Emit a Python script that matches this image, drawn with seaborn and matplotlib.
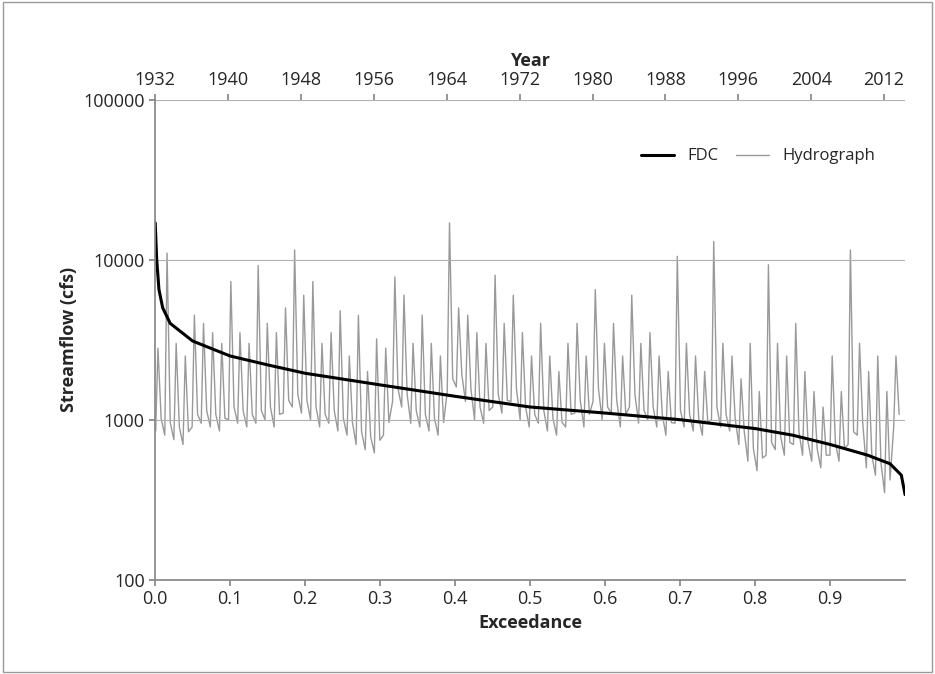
import matplotlib.pyplot as plt
import seaborn as sns
import numpy as np
import pandas as pd

# Flow duration curve (exceedance, cfs)
fdc_exc = [0.0, 0.002, 0.005, 0.01, 0.02, 0.05, 0.1, 0.15, 0.2, 0.3, 0.4, 0.5,
           0.6, 0.7, 0.8, 0.85, 0.9, 0.95, 0.98, 0.995, 1.0]
fdc_q = [17000, 10000, 6500, 5000, 4000, 3100, 2500, 2200, 1950, 1650, 1400, 1200,
         1100, 1000, 880, 800, 700, 600, 530, 450, 340]

# Hydrograph: annual peak and low flows (cfs), 1932-2013
years = list(range(1932, 2014))
peaks = [2800, 11000, 3000, 2500, 4500, 4000, 3500, 3000, 7300, 3500,
         3000, 9200, 4000, 3500, 5000, 11500, 6000, 7300, 3000, 3500,
         4800, 2500, 4500, 2000, 3200, 2800, 7800, 6000, 3000, 4500,
         3000, 2500, 17000, 5000, 4500, 3500, 3000, 8000, 4000, 6000,
         3500, 2500, 4000, 2500, 2000, 3000, 4000, 2500, 6500, 3000,
         4000, 2500, 6000, 3000, 3500, 2500, 2000, 10500, 3000, 2500,
         2000, 13000, 3000, 2500, 1800, 3000, 1500, 9300, 3000, 2500,
         4000, 2000, 1500, 1200, 2500, 1500, 11500, 3000, 2000, 2500,
         1500, 2500]
lows = [850, 800, 750, 700, 900, 950, 900, 850, 1000, 950,
        900, 950, 1000, 900, 1100, 1200, 1100, 1000, 900, 950,
        850, 800, 700, 650, 620, 800, 1300, 1200, 950, 900,
        850, 800, 1500, 1600, 1300, 1000, 950, 1200, 1100, 1300,
        1000, 900, 950, 850, 800, 900, 1100, 900, 1300, 1000,
        1100, 900, 1200, 950, 1000, 900, 800, 950, 900, 850,
        800, 1000, 900, 850, 700, 550, 480, 600, 650, 600,
        700, 600, 550, 500, 600, 550, 700, 800, 500, 450,
        350, 900]

t, q = [], []
for y, lo, pk in zip(years, lows, peaks):
    t += [y + 0.05, y + 0.3, y + 0.65]
    q += [lo, pk, lo * 1.2]
hydro = pd.DataFrame({"year": t, "q": q})
fdc = pd.DataFrame({"exc": fdc_exc, "q": fdc_q})

sns.set_theme(style="white")
plt.rcParams['font.family'] = ['Open Sans', 'DejaVu Sans']

fig = plt.figure(figsize=(9.35, 6.74), dpi=100)
ax = fig.add_axes([0.166, 0.14, 0.802, 0.712])
ax2 = ax.twiny()

sns.lineplot(data=hydro, x="year", y="q", ax=ax2, color="#999999", lw=1.0, label="Hydrograph", legend=False)
sns.lineplot(data=fdc, x="exc", y="q", ax=ax, color="black", lw=2.2, label="FDC", legend=False)

ax.set_yscale("log")
ax.set_ylim(100, 100000)
ax.set_xlim(0, 1)
ax2.set_xlim(1932, 2014.3)
ax.set_yticks([100, 1000, 10000, 100000])
ax.set_yticklabels(["100", "1000", "10000", "100000"])
ax.minorticks_off()
ax.set_xticks(np.arange(0, 0.95, 0.1))
ax.set_xticklabels([f"{v:.1f}" for v in np.arange(0, 0.95, 0.1)])
ax2.set_xticks(range(1932, 2013, 8))
ax.grid(axis="y", color="#b0b0b0", lw=0.8)
ax.set_zorder(ax2.get_zorder() + 1)
ax.patch.set_visible(False)

for a in (ax, ax2):
    for s in a.spines.values():
        s.set_visible(False)
    a.tick_params(labelsize=13, length=4, color="#888888")
ax.spines["left"].set_visible(True)
ax.spines["left"].set_color("#888888")
ax.spines["bottom"].set_visible(True)
ax.spines["bottom"].set_color("#888888")
ax.tick_params(axis="x", direction="out", bottom=True)
ax.tick_params(axis="y", left=True)

ax.set_xlabel("Exceedance", fontsize=13, fontweight="bold")
ax.set_ylabel("Streamflow (cfs)", fontsize=13, fontweight="bold")
ax2.set_xlabel("Year", fontsize=13, fontweight="bold")

h1, l1 = ax.get_legend_handles_labels()
h2, l2 = ax2.get_legend_handles_labels()
ax.legend(h1 + h2, l1 + l2, loc="upper right", bbox_to_anchor=(0.98, 0.93), ncol=2,
          frameon=False, fontsize=12, handlelength=2, columnspacing=1.0)

fig.add_artist(plt.Rectangle((0.003, 0.003), 0.994, 0.994, fill=False,
                             edgecolor="#999999", lw=1, transform=fig.transFigure))
fig.savefig("out.png", dpi=100)
